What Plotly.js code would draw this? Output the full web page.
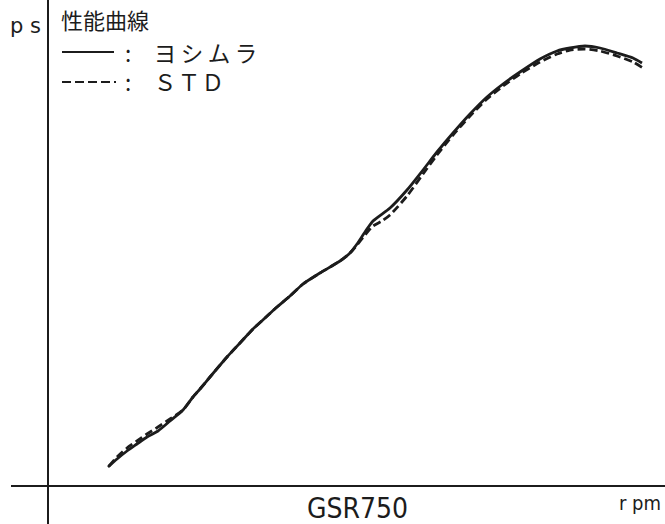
<!DOCTYPE html>
<html><head><meta charset="utf-8">
<script src="https://cdn.plot.ly/plotly-3.0.1.min.js"></script>
<style>html,body{margin:0;padding:0;background:#fff;}#chart{width:665px;height:524px;}</style>
</head><body><div id="chart"></div>
<script>
// Values (no tick labels: units are relative)
const rpmYoshimura = [60,69,79,89,99,110,122,135,145,152,162,179,192,205,217,229,242,255,272,292,302,309,317,325,342,359,375,389,405,422,439,455,472,492,509,522,537,552,569,585,594];
const psYoshimura  = [19,27,35,42,49,55,65,76,89,97,109,129,143,157,168,179,190,202,213,225,233,242,254,265,278,296,316,334,353,372,389,402,414,427,435,438,440,438,433,428,423];
const rpmStd = [61,69,79,89,99,110,122,135,145,152,162,179,192,205,217,229,242,255,272,292,302,309,317,325,334,342,359,375,389,405,422,439,455,472,492,509,522,537,552,569,585,595];
const psStd  = [20,29,38,45,52,59,67,76,89,97,109,129,143,157,168,179,190,202,213,225,233,241,251,260,265,271,290,312,331,351,370,387,400,412,424,432,436,437,435,430,424,418];
const legendTitle = "性能曲線";
const nameYoshimura = "ヨ\u2009シ\u2009ム\u2009ラ";
const nameStd = "Ｓ\u200aＴ\u200aＤ";
const legendSep = ":\u2003";
const yLabel = "p s";
const xLabel = "r pm";
const modelName = "GSR750";

const ink = "#1c1c1c";
const jp = "Noto Sans CJK JP, sans-serif";
const cond = "DejaVu Sans Condensed, sans-serif";

const traces = [
  {x: rpmStd, y: psStd, mode: "lines", line: {color: ink, width: 2.8, dash: "8px,4px", shape: "spline", smoothing: 0.6}, hoverinfo: "skip", showlegend: false},
  {x: rpmYoshimura, y: psYoshimura, mode: "lines", line: {color: ink, width: 2.8, shape: "spline", smoothing: 0.6}, hoverinfo: "skip", showlegend: false}
];

const layout = {
  width: 665, height: 524,
  margin: {l: 0, r: 0, t: 0, b: 0},
  paper_bgcolor: "#fff", plot_bgcolor: "#fff",
  showlegend: false,
  xaxis: {range: [-48, 617], visible: false, fixedrange: true},
  yaxis: {range: [-38, 486], visible: false, fixedrange: true},
  shapes: [
    {type: "line", xref: "x", yref: "y", x0: 0, x1: 0, y0: -38, y1: 486, line: {color: ink, width: 2}},
    {type: "line", xref: "x", yref: "y", x0: -37, x1: 617, y0: 0, y1: 0, line: {color: ink, width: 2}},
    {type: "line", xref: "x", yref: "y", x0: 14, x1: 66, y0: 434, y1: 434, line: {color: ink, width: 2}},
    {type: "line", xref: "x", yref: "y", x0: 14, x1: 70, y0: 404, y1: 404, line: {color: ink, width: 2, dash: "9px,4px,9px,4px,9px,4px,9px,4px,2px,20px"}}
  ],
  annotations: [
    {xref: "x", yref: "y", x: -23, y: 460, text: yLabel, showarrow: false, xanchor: "center", yanchor: "middle", font: {family: "DejaVu Sans, sans-serif", size: 21, color: ink}},
    {xref: "x", yref: "y", x: 11, y: 467, text: legendTitle, showarrow: false, xanchor: "left", yanchor: "middle", font: {family: jp, size: 22, color: ink}},
    {xref: "x", yref: "y", x: 75, y: 420, text: legendSep + nameYoshimura + "<br>" + legendSep + nameStd, showarrow: false, align: "left", xanchor: "left", yanchor: "middle", font: {family: jp, size: 22.5, color: ink}},
    {xref: "x", yref: "y", x: 309, y: -22, text: modelName, showarrow: false, xanchor: "center", yanchor: "middle", borderpad: 0, font: {family: cond, size: 28, color: ink}},
    {xref: "x", yref: "y", x: 592, y: -17, text: xLabel, showarrow: false, xanchor: "center", yanchor: "middle", font: {family: cond, size: 20, color: ink}}
  ]
};

Plotly.newPlot("chart", traces, layout, {displayModeBar: false, staticPlot: true});
</script>
</body></html>
